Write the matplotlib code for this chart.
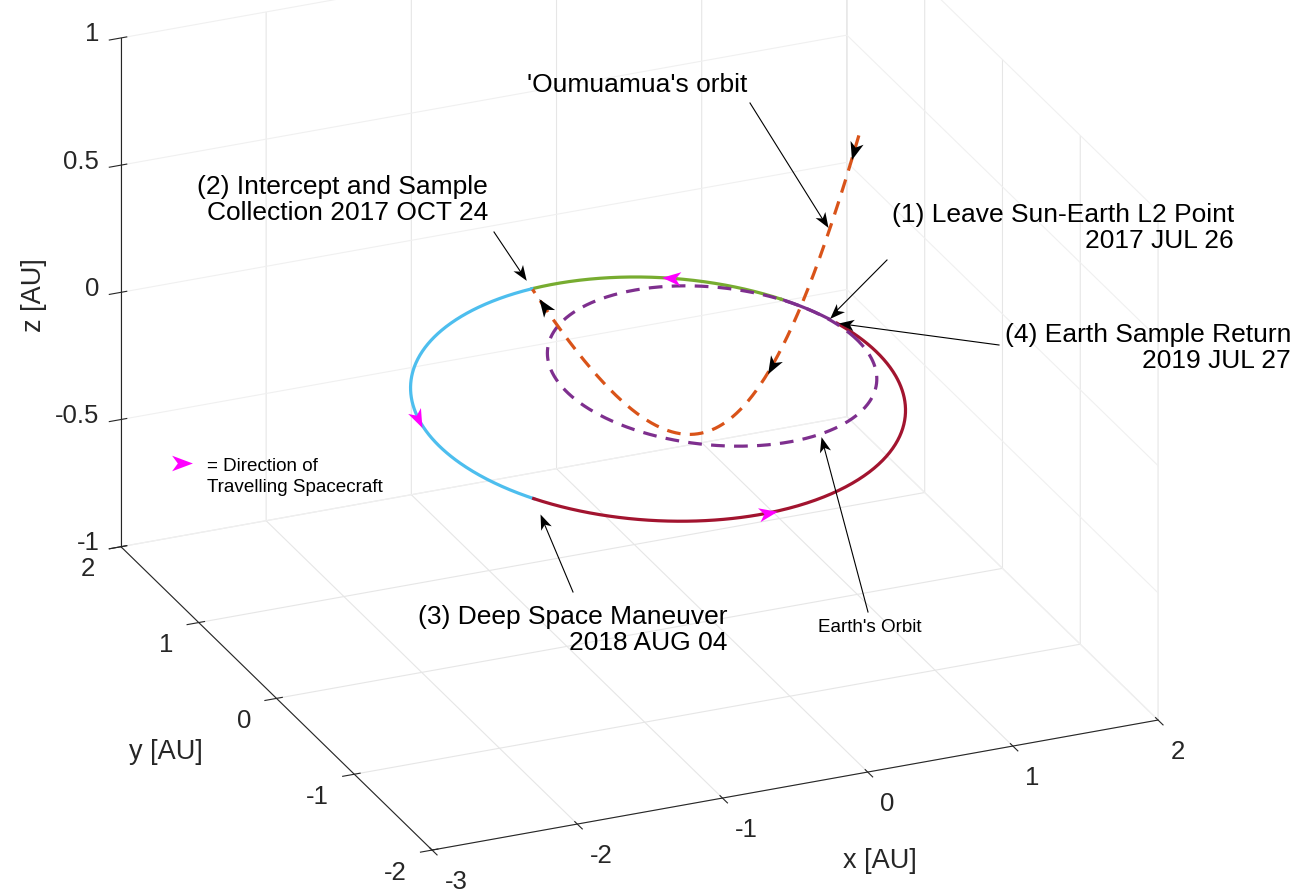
import numpy as np
import matplotlib
matplotlib.use('Agg')
import matplotlib.pyplot as plt
from matplotlib.ticker import FuncFormatter
from matplotlib.markers import MarkerStyle
from matplotlib.path import Path
from matplotlib.transforms import Affine2D, IdentityTransform
from matplotlib.lines import Line2D
from mpl_toolkits.mplot3d import proj3d

plt.rcParams['font.family'] = ['Liberation Sans', 'DejaVu Sans']
plt.rcParams['axes.unicode_minus'] = False

# axes
x_ticks = [-3, -2, -1, 0, 1, 2]
y_ticks = [-2, -1, 0, 1, 2]
z_ticks = [-1, -0.5, 0, 0.5, 1]

# Earth orbit [AU]
earth_radius = 1.0
earth_label_lon = 283.0

# spacecraft transfer orbit in the ecliptic: perihelion [AU], eccentricity, perihelion longitude [deg]
sc_perihelion = 1.0
sc_ecc = 0.365
sc_peri_lon = 27.0
# event longitudes [deg]: leave L2, end of first leg, intercept, DSM, Earth return
depart_lon, leg1_lon, intercept_lon, dsm_lon, return_lon = 17.0, 37.0, 115.7, 211.5, 373.0
leg_colors = ['#7E2F8E', '#77AC30', '#4DBEEE', '#A2142F']
sc_arrow_lon = [75.0, 180.0, 252.5]

# 'Oumuamua hyperbolic orbit: q [AU], e, inclination, node, arg. of perihelion [deg]
oum_q, oum_e = 0.2671, 1.1086
oum_inc, oum_node, oum_argp = 128.03, 115.43, 238.07
# hyperbolic anomaly: start of plotted arc, intercept, direction marks, label point
oum_H_start, oum_H_end = -0.8351, 0.8652
oum_arrow_H = [-0.81, -0.33, 0.825]
oum_label_H = -0.673


def sc_xyz(lon):
    lon = np.atleast_1d(np.asarray(lon, float))
    r = sc_perihelion * (1 + sc_ecc) / (1 + sc_ecc * np.cos(np.radians(lon - sc_peri_lon)))
    t = np.radians(lon)
    return np.array([r * np.cos(t), r * np.sin(t), np.zeros_like(r)])


def earth_xyz(lon):
    t = np.radians(np.atleast_1d(np.asarray(lon, float)))
    return np.array([earth_radius * np.cos(t), earth_radius * np.sin(t), np.zeros_like(t)])


def oum_xyz(Hh):
    Hh = np.atleast_1d(np.asarray(Hh, float))
    i, O, w = np.radians([oum_inc, oum_node, oum_argp])
    P = np.array([np.cos(O)*np.cos(w) - np.sin(O)*np.sin(w)*np.cos(i),
                  np.sin(O)*np.cos(w) + np.cos(O)*np.sin(w)*np.cos(i),
                  np.sin(w)*np.sin(i)])
    Q = np.array([-np.cos(O)*np.sin(w) - np.sin(O)*np.cos(w)*np.cos(i),
                  -np.sin(O)*np.sin(w) + np.cos(O)*np.cos(w)*np.cos(i),
                  np.cos(w)*np.sin(i)])
    a = oum_q / (oum_e - 1)
    xi = a * (oum_e - np.cosh(Hh))
    eta = a * np.sqrt(oum_e**2 - 1) * np.sinh(Hh)
    return np.outer(P, xi) + np.outer(Q, eta)


W, H = 1294, 890
fig = plt.figure(figsize=(W / 100, H / 100), dpi=100)
side = 1213.0
cx, cy = 639.5, H - 379.0
ax = fig.add_axes([(cx - 0.513514 * side) / W, (cy - 0.513514 * side) / H, side / W, side / H],
                  projection='3d', proj_type='ortho')
ax.computed_zorder = False

# orbits
bounds = [depart_lon, leg1_lon, intercept_lon, dsm_lon, return_lon]
for k in range(4):
    ax.plot(*sc_xyz(np.linspace(bounds[k], bounds[k + 1], 300)), color=leg_colors[k], lw=2.3, zorder=2)
ax.plot(*earth_xyz(np.linspace(0, 360, 721)), color='#7E2F8E', lw=2.3, ls=(0, (4.3, 2.9)), zorder=3)
ax.plot(*oum_xyz(np.linspace(oum_H_start, oum_H_end, 500)), color='#D95319', lw=2.3,
        ls=(0, (4.3, 2.9)), zorder=4)

ax.set_xlim(-3, 2)
ax.set_ylim(-2, 2)
ax.set_zlim(-1, 1)
ax.set_box_aspect((1, 1, 0.709), zoom=1.0)
ax.view_init(elev=24.7, azim=-113.2)
ax.set_xticks(x_ticks)
ax.set_yticks(y_ticks)
ax.set_zticks(z_ticks)
fmt = FuncFormatter(lambda v, p: '%g' % v)
for axis, gc in ((ax.xaxis, '#e6e6e6'), (ax.yaxis, '#e6e6e6'), (ax.zaxis, '#f0f0f0')):
    axis.set_major_formatter(fmt)
    axis.set_pane_color((1, 1, 1, 0))
    axis.pane.set_edgecolor((1, 1, 1, 0))
    axis._axinfo['grid'].update(color=gc, linewidth=0.8)
    axis._axinfo['axisline']['color'] = '#262626'
    axis.line.set_color('#262626')
    axis.line.set_linewidth(0.8)
ax.tick_params(labelsize=18.5, colors='#262626')
ax.xaxis.set_tick_params(pad=10)
ax.yaxis.set_tick_params(pad=8)
ax.zaxis.set_tick_params(pad=1.5)
for axis, ha in ((ax.xaxis, 'left'), (ax.yaxis, 'right'), (ax.zaxis, 'right')):
    for t in axis.get_ticklabels():
        t.set_ha(ha)
        t.set_va('center')


def proj(p):
    X, Y, _ = proj3d.proj_transform(p[0], p[1], p[2], ax.get_proj())
    return float(np.ravel(X)[0]), float(np.ravel(Y)[0])


def fpx(x, y):
    # reference pixel (top-left origin) -> figure pixels
    return np.array([x, H - y], float)


# dart shaped arrowhead, tip pointing to +x
dart = Path([(1, 0), (-1, 0.75), (-0.45, 0), (-1, -0.75), (1, 0)],
            [Path.MOVETO, Path.LINETO, Path.LINETO, Path.LINETO, Path.CLOSEPOLY])


def dart_style(angle):
    return MarkerStyle(dart, transform=Affine2D().rotate_deg(angle))


def dart_mark(p_back, p_here, color, size):
    a, b = proj(p_back), proj(p_here)
    ang = np.degrees(np.arctan2(b[1] - a[1], b[0] - a[0]))
    ax.plot(*p_here, marker=dart_style(ang), ms=size, color=color, mew=0, ls='none', zorder=6)


# direction marks
for lon in sc_arrow_lon:
    dart_mark(sc_xyz(lon - 2), sc_xyz(lon), '#FF00FF', 13.5)
for h in oum_arrow_H:
    dart_mark(oum_xyz(h - 0.02), oum_xyz(h), 'black', 13)


def note(tip, tail, gap=1.0, ms=11):
    tip_px = ax.transData.transform(proj(tip))
    tail_px = fpx(*tail)
    d = tip_px - tail_px
    u = d / np.hypot(*d)
    end = tip_px - u * gap
    half = ms * 100 / 72 / 2
    centre = end - u * half
    fig.add_artist(Line2D([tail_px[0], centre[0]], [tail_px[1], centre[1]], color='black', lw=0.8,
                          transform=IdentityTransform(), zorder=7))
    fig.add_artist(Line2D([centre[0]], [centre[1]], marker=dart_style(np.degrees(np.arctan2(u[1], u[0]))),
                          ms=ms, color='black', mew=0, ls='none', transform=IdentityTransform(), zorder=7))


note(oum_xyz(oum_label_H), (750, 103), 3)
note(sc_xyz(intercept_lon), (494, 232), 10)
note(sc_xyz(depart_lon), (887, 260), 1)
note(sc_xyz(return_lon), (999, 345), 1)
note(sc_xyz(dsm_lon), (573, 592), 17)
note(earth_xyz(earth_label_lon), (868, 612), 3)

txt = dict(fontsize=19, color='black', va='center', linespacing=1.14)
fig.text(637 / W, 1 - 85 / H, "'Oumuamua's orbit", ha='center', **txt)
fig.text(488 / W, 1 - 200 / H, '(2) Intercept and Sample\nCollection 2017 OCT 24',
         ha='right', multialignment='right', **txt)
fig.text(1234 / W, 1 - 228 / H, '(1) Leave Sun-Earth L2 Point\n2017 JUL 26',
         ha='right', multialignment='right', **txt)
fig.text(1291 / W, 1 - 348 / H, '(4) Earth Sample Return\n2019 JUL 27',
         ha='right', multialignment='right', **txt)
fig.text(727 / W, 1 - 630 / H, '(3) Deep Space Maneuver\n2018 AUG 04',
         ha='right', multialignment='right', **txt)
fig.text(818 / W, 1 - 628 / H, "Earth's Orbit", fontsize=13.6, ha='left', va='center')

# legend for the direction marks
fig.add_artist(Line2D([182 / W], [1 - 463 / H], marker=dart, ms=15, color='#FF00FF', mew=0,
                      ls='none', transform=fig.transFigure))
fig.text(207 / W, 1 - 477 / H, '= Direction of\nTravelling Spacecraft', fontsize=13.6,
         ha='left', va='center', linespacing=1.27)

# axis labels
lab = dict(fontsize=19.5, color='#262626', ha='center', va='center')
fig.text(880 / W, 1 - 861 / H, 'x [AU]', **lab)
fig.text(166 / W, 1 - 752 / H, 'y [AU]', **lab)
fig.text(34 / W, 1 - 295 / H, 'z [AU]', rotation=90, **lab)

fig.savefig('out.png', dpi=100)
